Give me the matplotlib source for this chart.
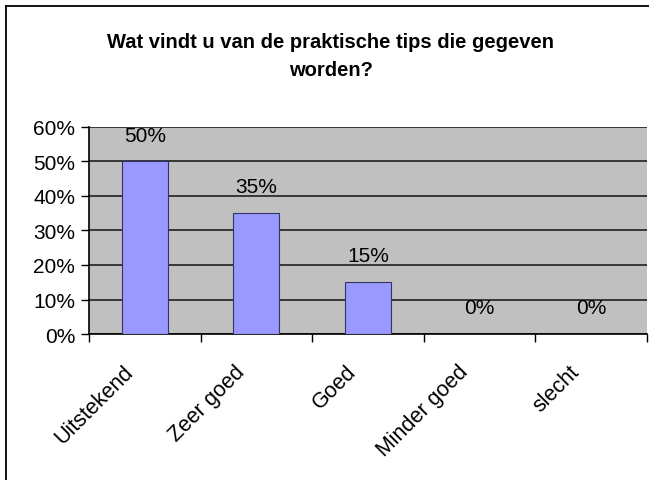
import matplotlib.pyplot as plt
from matplotlib.lines import Line2D
from matplotlib.ticker import FuncFormatter
from matplotlib.transforms import ScaledTranslation

categories = ["Uitstekend", "Zeer goed", "Goed", "Minder goed", "slecht"]
values = [50, 35, 15, 0, 0]
yticks = [0, 10, 20, 30, 40, 50, 60]
title = "Wat vindt u van de praktische tips die gegeven\nworden?"

plt.rcParams["font.family"] = ["Liberation Sans", "DejaVu Sans"]

fig = plt.figure(figsize=(6.49, 4.81), dpi=100)
ax = fig.add_axes([0.137, 0.3035, 0.86, 0.4305])

ax.set_facecolor("#c0c0c0")
x = range(len(categories))
ax.bar(x, values, width=0.41, color="#9999ff", edgecolor="#333366",
       linewidth=0.8, zorder=3)

for xi, v in zip(x, values):
    ax.annotate(f"{v}%", (xi, v), xytext=(0, 19), textcoords="offset points",
                ha="center", va="center", fontsize=15)

ax.set_xlim(-0.5, len(categories) - 0.5)
ax.set_ylim(0, 60)
ax.set_yticks(yticks)
ax.yaxis.set_major_formatter(FuncFormatter(lambda v, p: f"{v:.0f}%"))
ax.grid(axis="y", color="#202020", linewidth=1.2, zorder=1)
ax.set_axisbelow(True)

ax.set_xticks([i - 0.5 for i in range(len(categories) + 1)])
ax.set_xticklabels([])
ax.set_xticks(list(x), minor=True)
ax.set_xticklabels(categories, minor=True, rotation=45, ha="right",
                   rotation_mode="anchor", fontsize=15.5)
ax.tick_params(axis="x", which="minor", length=0, pad=22)
ax.tick_params(axis="x", which="major", length=6, width=1, direction="out")
ax.tick_params(axis="y", length=6, width=1, labelsize=15, pad=4)

# labels in the original sit a bit left of the category centre
shift = ScaledTranslation(-0.22, 0.04, fig.dpi_scale_trans)
for lab in ax.get_xticklabels(minor=True):
    lab.set_transform(lab.get_transform() + shift)

for s in ["top", "right"]:
    ax.spines[s].set_visible(False)
ax.spines["left"].set_linewidth(1.2)
ax.spines["bottom"].set_linewidth(1.2)

fig.text(0.51, 0.882, title, ha="center", va="center", fontsize=14.5,
         fontweight="bold", linespacing=1.6)

# chart border (left and top only, the rest is cut off)
fig.add_artist(Line2D([0.009, 0.009], [0, 0.986], color="black", lw=1.3,
                      transform=fig.transFigure))
fig.add_artist(Line2D([0.009, 1.0], [0.986, 0.986], color="black", lw=1.3,
                      transform=fig.transFigure))

fig.savefig("out.png", dpi=100)
